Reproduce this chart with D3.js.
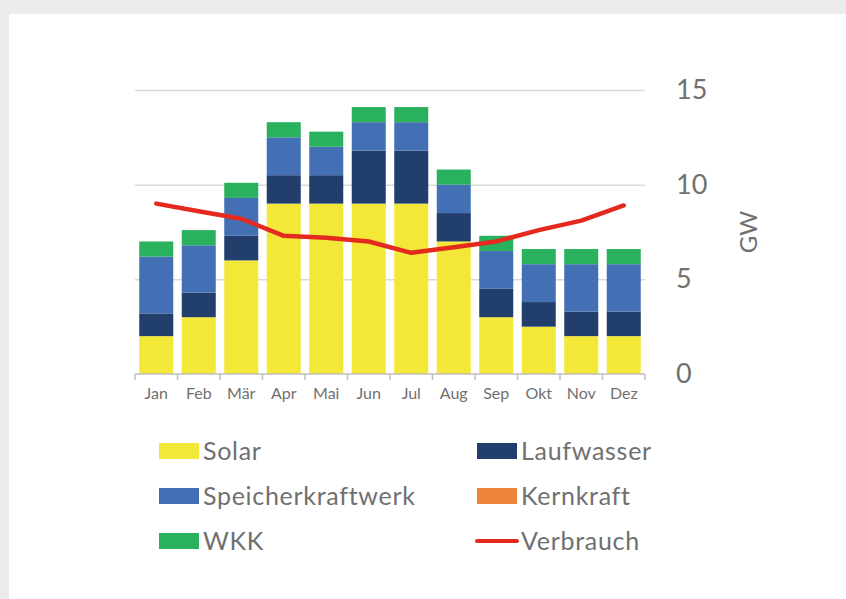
<!DOCTYPE html>
<html>
<head>
<meta charset="utf-8">
<script src="https://cdn.jsdelivr.net/npm/d3@7"></script>
<style>
  html, body { margin: 0; padding: 0; background: #ebebed; }
  svg { display: block; }
  text { font-family: Lato, "Open Sans", sans-serif; fill: #707070; }
</style>
</head>
<body>
<div id="chart"></div>
<script>
const months = ["Jan", "Feb", "Mär", "Apr", "Mai", "Jun", "Jul", "Aug", "Sep", "Okt", "Nov", "Dez"];

// GW per month
const solar      = [2.0, 3.0, 6.0, 9.0, 9.0, 9.0, 9.0, 7.0, 3.0, 2.5, 2.0, 2.0];
const laufwasser = [1.2, 1.3, 1.3, 1.5, 1.5, 2.8, 2.8, 1.5, 1.5, 1.3, 1.3, 1.3];
const speicher   = [3.0, 2.5, 2.0, 2.0, 1.5, 1.5, 1.5, 1.5, 2.0, 2.0, 2.5, 2.5];
const kernkraft  = [0, 0, 0, 0, 0, 0, 0, 0, 0, 0, 0, 0];
const wkk        = [0.8, 0.8, 0.8, 0.8, 0.8, 0.8, 0.8, 0.8, 0.8, 0.8, 0.8, 0.8];
const verbrauch  = [9.0, 8.6, 8.2, 7.3, 7.2, 7.0, 6.4, 6.7, 7.0, 7.6, 8.1, 8.9];

const yTicks = [0, 5, 10, 15];

const series = [
  { key: "Solar", values: solar, color: "#f3e838" },
  { key: "Laufwasser", values: laufwasser, color: "#213e6c" },
  { key: "Speicherkraftwerk", values: speicher, color: "#4370b5" },
  { key: "Kernkraft", values: kernkraft, color: "#ef843d" },
  { key: "WKK", values: wkk, color: "#29b15d" }
];
const lineColor = "#e42a1f";

const W = 846, H = 599;
const plot = { left: 135, right: 645, top: 90, bottom: 374 };

const svg = d3.select("#chart").append("svg")
  .attr("width", W)
  .attr("height", H);

// white panel
svg.append("rect")
  .attr("x", 9).attr("y", 14)
  .attr("width", W - 9).attr("height", H - 14)
  .attr("fill", "#ffffff");

const x = d3.scaleBand()
  .domain(months)
  .range([plot.left, plot.right])
  .paddingInner(0.2)
  .paddingOuter(0.1);

const y = d3.scaleLinear()
  .domain([0, 15])
  .range([plot.bottom, plot.top]);

// gridlines
const grid = svg.append("g")
  .attr("transform", `translate(${plot.left},0)`)
  .call(d3.axisRight(y)
    .tickValues(yTicks.filter(d => d > 0))
    .tickSize(plot.right - plot.left)
    .tickFormat(""));
grid.select(".domain").remove();
grid.selectAll(".tick line")
  .attr("stroke", "#d9d9d9")
  .attr("stroke-width", 1.5);

// right-hand value labels
const yAxis = svg.append("g")
  .attr("transform", `translate(${plot.right + 31},0)`)
  .call(d3.axisRight(y).tickValues(yTicks).tickSize(0).tickPadding(0));
yAxis.select(".domain").remove();
yAxis.selectAll(".tick text")
  .attr("text-anchor", "start")
  .attr("x", 0)
  .attr("fill", "#6e6e6e")
  .style("font-size", "27px");

svg.append("text")
  .attr("transform", `translate(757,232) rotate(-90)`)
  .attr("text-anchor", "middle")
  .attr("fill", "#6e6e6e")
  .style("font-size", "24px")
  .text("GW");

// stacked bars
const rows = months.map((m, i) => {
  const r = { month: m };
  series.forEach(s => { r[s.key] = s.values[i]; });
  return r;
});
const stack = d3.stack().keys(series.map(s => s.key));
const layers = stack(rows);

svg.append("g")
  .selectAll("g")
  .data(layers)
  .join("g")
  .attr("fill", (d, i) => series[i].color)
  .selectAll("rect")
  .data(d => d)
  .join("rect")
  .attr("x", d => x(d.data.month))
  .attr("y", d => y(d[1]))
  .attr("width", x.bandwidth())
  .attr("height", d => y(d[0]) - y(d[1]));

// x axis
const xAxis = svg.append("g")
  .attr("transform", `translate(0,${plot.bottom})`)
  .call(d3.axisBottom(x).tickSize(0).tickPadding(14));
xAxis.select(".domain")
  .attr("stroke", "#bfbfbf")
  .attr("stroke-width", 1.5)
  .attr("d", `M${plot.left},0H${plot.right}`);
xAxis.selectAll(".tick text")
  .attr("fill", "#757575")
  .style("font-size", "16px");

const bounds = months.map(m => x(m) - x.step() * x.paddingInner() / 2)
  .concat([plot.right]);
xAxis.selectAll(".bound")
  .data(bounds)
  .join("line")
  .attr("class", "bound")
  .attr("x1", d => d).attr("x2", d => d)
  .attr("y1", 0).attr("y2", 6)
  .attr("stroke", "#bfbfbf")
  .attr("stroke-width", 1.5);

// Verbrauch line
const line = d3.line()
  .x((d, i) => x(months[i]) + x.bandwidth() / 2)
  .y(d => y(d));

svg.append("path")
  .datum(verbrauch)
  .attr("fill", "none")
  .attr("stroke", lineColor)
  .attr("stroke-width", 4.5)
  .attr("stroke-linejoin", "round")
  .attr("stroke-linecap", "round")
  .attr("d", line);

// legend
const legendItems = [
  { key: "Solar", color: series[0].color, type: "rect" },
  { key: "Laufwasser", color: series[1].color, type: "rect" },
  { key: "Speicherkraftwerk", color: series[2].color, type: "rect" },
  { key: "Kernkraft", color: series[3].color, type: "rect" },
  { key: "WKK", color: series[4].color, type: "rect" },
  { key: "Verbrauch", color: lineColor, type: "line" }
];
const colX = [159, 477], rowY = [443, 488, 533];

const legend = svg.append("g")
  .selectAll("g")
  .data(legendItems)
  .join("g")
  .attr("transform", (d, i) => `translate(${colX[i % 2]},${rowY[Math.floor(i / 2)]})`);

legend.filter(d => d.type === "rect")
  .append("rect")
  .attr("width", 40).attr("height", 16)
  .attr("fill", d => d.color);

legend.filter(d => d.type === "line")
  .append("line")
  .attr("x1", 0).attr("x2", 40)
  .attr("y1", 8).attr("y2", 8)
  .attr("stroke", d => d.color)
  .attr("stroke-width", 4)
  .attr("stroke-linecap", "round");

legend.append("text")
  .attr("x", 44)
  .attr("y", 17)
  .attr("fill", "#6e6e6e")
  .style("font-size", "25px")
  .style("letter-spacing", "0.7px")
  .text(d => d.key);
</script>
</body>
</html>
